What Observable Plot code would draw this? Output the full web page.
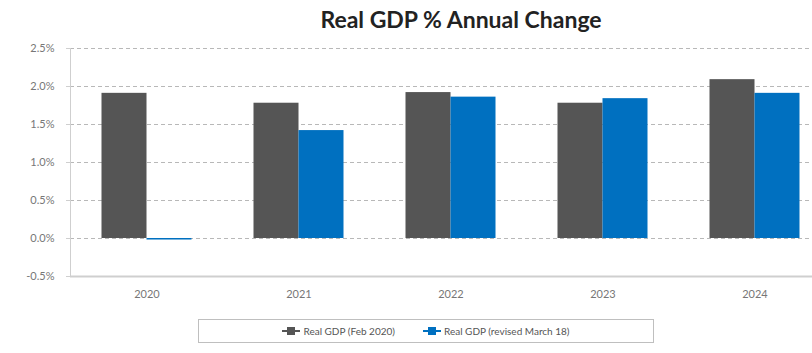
<!DOCTYPE html>
<html>
<head>
<meta charset="utf-8">
<script src="https://cdn.jsdelivr.net/npm/d3@7"></script>
<script src="https://cdn.jsdelivr.net/npm/@observablehq/plot@0.6"></script>
<style>
  html, body { margin: 0; padding: 0; background: #fff; overflow: hidden; width: 812px; height: 353px; }
  #wrap { position: relative; width: 812px; height: 353px; overflow: hidden; }
  #title { position: absolute; top: 5px; left: 0; width: 922px; text-align: center; font: bold 23px Lato, "Open Sans", sans-serif; color: #222; }
  #chart { position: absolute; top: 36px; left: 0; width: 830px; }
  #chart svg { max-width: none !important; }
  #legend { position: absolute; left: 198px; top: 319px; width: 456px; height: 24px; border: 1px solid #bfbfbf; box-sizing: border-box; display: flex; align-items: center; justify-content: center; gap: 28px; font: 10px Lato, "Open Sans", sans-serif; color: #555; }
  .item { display: flex; align-items: center; gap: 3px; }
  .mk { position: relative; width: 18px; height: 8px; }
  .mk .ln { position: absolute; left: 0; right: 0; top: 3px; height: 2px; }
  .mk .sq { position: absolute; left: 5px; top: 0; width: 8px; height: 8px; }
</style>
</head>
<body>
<div id="wrap">
  <div id="title">Real GDP % Annual Change</div>
  <div id="chart"></div>
  <div id="legend"></div>
</div>
<script>
const years = ["2020", "2021", "2022", "2023", "2024"];
const seriesNames = ["Real GDP (Feb 2020)", "Real GDP (revised March 18)"];
const febValues = [1.91, 1.78, 1.92, 1.78, 2.09];
const marchValues = [-0.02, 1.42, 1.86, 1.84, 1.91];
const yTicks = [-0.5, 0, 0.5, 1.0, 1.5, 2.0, 2.5];
const colors = ["#555555", "#0070C0"];

const feb = years.map((y, i) => ({year: y, value: febValues[i], series: seriesNames[0]}));
const mar = years.map((y, i) => ({year: y, value: marchValues[i], series: seriesNames[1]}));

const plot = Plot.plot({
  width: 830,
  height: 270,
  marginLeft: 70,
  marginRight: 0,
  marginTop: 12,
  marginBottom: 30,
  style: {fontFamily: "Lato, 'Open Sans', sans-serif", fontSize: "11px", color: "#777", maxWidth: "none"},
  x: {domain: years, paddingInner: 0.705, paddingOuter: 0.3525, label: null},
  y: {domain: [-0.5, 2.5], label: null, ticks: yTicks},
  marks: [
    Plot.ruleY(yTicks.filter(d => d > -0.5), {stroke: "#b8b8b8", strokeDasharray: "4,3", strokeWidth: 1}),
    Plot.barY(feb, {x: "year", y1: 0, y2: "value", fill: colors[0], dx: -22.5}),
    Plot.barY(mar, {x: "year", y1: 0, y2: "value", fill: colors[1], dx: 22.5}),
    Plot.ruleY([-0.5], {stroke: "#cfcfcf", strokeWidth: 2}),
    Plot.frame({anchor: "left", stroke: "#cfcfcf"}),
    Plot.axisY({ticks: yTicks, tickSize: 4, tickPadding: 12, tickFormat: d => d.toFixed(1) + "%", stroke: "#cfcfcf", fill: "#777"}),
    Plot.axisX({tickSize: 0, tickPadding: 14, fill: "#777"})
  ]
});
plot.style.maxWidth = "none";
document.getElementById("chart").appendChild(plot);

const legend = document.getElementById("legend");
seriesNames.forEach((name, i) => {
  const item = document.createElement("div");
  item.className = "item";
  item.innerHTML = `<div class="mk"><div class="ln" style="background:${colors[i]}"></div><div class="sq" style="background:${colors[i]}"></div></div><span>${name}</span>`;
  legend.appendChild(item);
});
</script>
</body>
</html>
